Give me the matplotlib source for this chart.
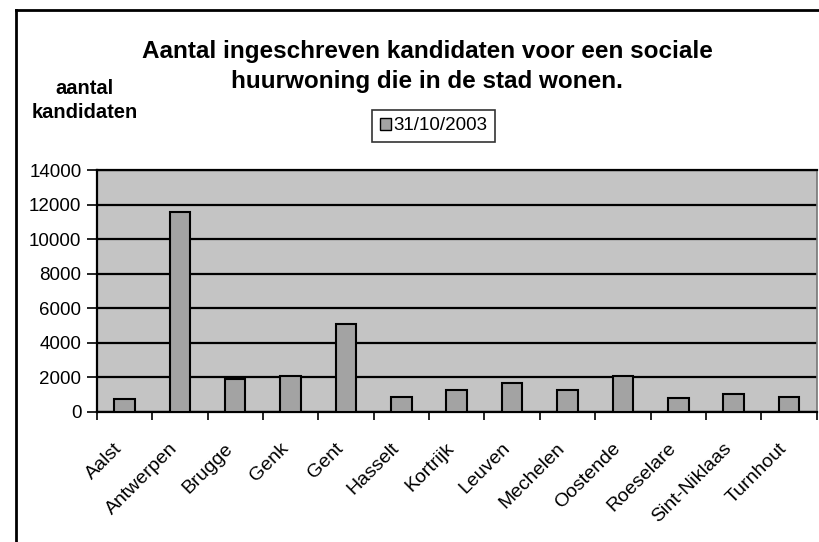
import matplotlib
matplotlib.use("Agg")
import matplotlib.pyplot as plt
from matplotlib.lines import Line2D
from matplotlib.patches import Patch
from matplotlib.transforms import ScaledTranslation
import numpy as np

plt.rcParams['font.family'] = ['Liberation Sans', 'DejaVu Sans']

cities = ["Aalst", "Antwerpen", "Brugge", "Genk", "Gent", "Hasselt", "Kortrijk",
          "Leuven", "Mechelen", "Oostende", "Roeselare", "Sint-Niklaas", "Turnhout"]
values = [750, 11560, 1930, 2060, 5110, 870, 1250, 1680, 1250, 2100, 810, 1060, 850]
yticks = [0, 2000, 4000, 6000, 8000, 10000, 12000, 14000]
series_label = "31/10/2003"
title = "Aantal ingeschreven kandidaten voor een sociale\nhuurwoning die in de stad wonen."
ylabel = "aantal\nkandidaten"

fig = plt.figure(figsize=(8.2, 5.42), dpi=100)
fig.patch.set_facecolor("white")
ax = fig.add_axes([0.118, 0.240, 0.878, 0.446])
ax.set_facecolor("#c4c4c4")

x = np.arange(len(cities))
ax.bar(x, values, width=0.37, color="#a3a3a3", edgecolor="black", linewidth=1.5, zorder=3)

ax.set_xlim(-0.5, len(cities) - 0.5)
ax.set_ylim(0, 14000)
ax.set_yticks(yticks)
ax.set_yticklabels([str(v) for v in yticks], fontsize=13.5)
ax.yaxis.grid(True, color="black", linewidth=1.6, zorder=1)
ax.set_axisbelow(True)

ax.set_xticks(np.arange(len(cities) + 1) - 0.5)
ax.set_xticklabels([])
ax.set_xticks(x, minor=True)
ax.set_xticklabels(cities, minor=True, rotation=45, ha="right", va="top",
                   rotation_mode="anchor", fontsize=14)
ax.tick_params(axis="x", which="minor", length=0, pad=20)
ax.tick_params(axis="x", which="major", direction="out", length=6, width=1.2)
ax.tick_params(axis="y", direction="out", length=7, width=1.2, pad=4)
shift = ScaledTranslation(-0.11, 0, fig.dpi_scale_trans)
for lab in ax.get_xticklabels(minor=True):
    lab.set_transform(lab.get_transform() + shift)

for s in ["left", "bottom", "top"]:
    ax.spines[s].set_color("black")
    ax.spines[s].set_linewidth(1.6)
ax.spines["right"].set_color("#777777")
ax.spines["right"].set_linewidth(1.2)

fig.text(0.521, 0.877, title, ha="center", va="center", fontsize=17.5,
         fontweight="bold", linespacing=1.4)
fig.text(0.103, 0.815, ylabel, ha="center", va="center", fontsize=14.5,
         fontweight="bold", linespacing=1.35)

handle = Patch(facecolor="#a3a3a3", edgecolor="black", linewidth=1.0)
leg = fig.legend([handle], [series_label], loc="center", bbox_to_anchor=(0.529, 0.768),
                 fontsize=13.5, frameon=True, fancybox=False, handlelength=0.6,
                 handleheight=0.6, handletextpad=0.15, borderpad=0.4)
leg.get_frame().set_edgecolor("black")
leg.get_frame().set_linewidth(1.2)

# outer chart frame (left and top edges visible)
fig.add_artist(Line2D([0.020, 0.020], [0.0, 0.982], color="black", linewidth=2, transform=fig.transFigure))
fig.add_artist(Line2D([0.020, 1.0], [0.982, 0.982], color="black", linewidth=2, transform=fig.transFigure))

fig.savefig("out.png", dpi=100)
